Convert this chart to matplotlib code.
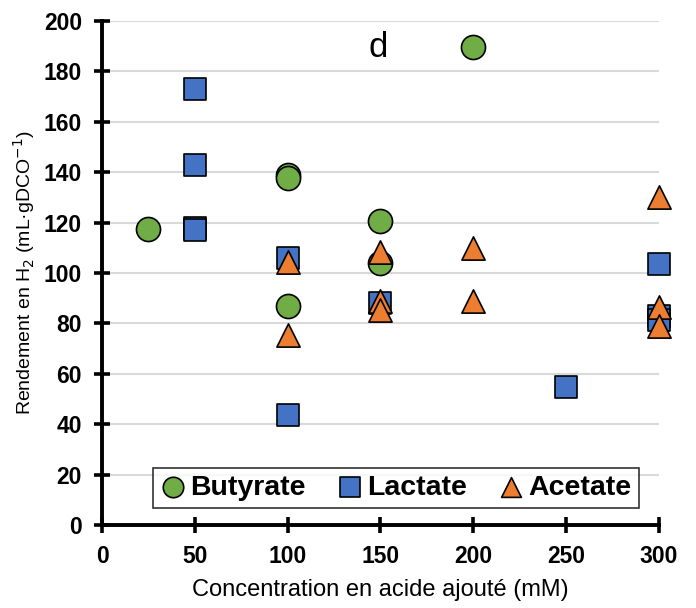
import matplotlib.pyplot as plt

plt.rcParams['font.family'] = ['Liberation Sans', 'DejaVu Sans']

### 0. Data
but_x = [25, 100, 100, 100, 150, 150, 200]
but_y = [117.5, 139, 137.7, 87, 120.5, 103.8, 189.5]

lac_x = [50, 50, 50, 50, 100, 100, 150, 250, 300, 300, 300]
lac_y = [173, 142.7, 118, 117.2, 106, 43.7, 88, 54.7, 103.6, 83, 81.5]

ace_x = [100, 100, 150, 150, 150, 200, 200, 300, 300, 300]
ace_y = [104.4, 75.4, 108.3, 88.8, 85.3, 109.8, 88.7, 130.3, 86.5, 78.8]

xticks = [0, 50, 100, 150, 200, 250, 300]
yticks = list(range(0, 201, 20))

### 1. Figure
fig = plt.figure(figsize=(6.96, 6.08), dpi=100)
ax = fig.add_axes([0.1466, 0.1365, 0.80, 0.829])

ax.scatter(but_x, but_y, s=300, marker='o', c='#70AD47', edgecolors='black',
           linewidths=1.2, label='Butyrate', zorder=3, clip_on=False)
ax.scatter(lac_x, lac_y, s=260, marker='s', c='#4472C4', edgecolors='black',
           linewidths=1.2, label='Lactate', zorder=3, clip_on=False)
ax.scatter(ace_x, ace_y, s=280, marker='^', c='#ED7D31', edgecolors='black',
           linewidths=1.2, label='Acetate', zorder=4, clip_on=False)

ax.set_xlim(0, 300)
ax.set_ylim(0, 200)
ax.set_xticks(xticks)
ax.set_yticks(yticks)
ax.yaxis.grid(True, color='#D9D9D9', linewidth=1.5)
ax.set_axisbelow(True)

for s in ['top', 'right']:
    ax.spines[s].set_visible(False)
for s in ['left', 'bottom']:
    ax.spines[s].set_linewidth(2.8)

ax.tick_params(direction='inout', length=11, width=2.6, labelsize=16.5)
ax.tick_params(axis='x', pad=9)
ax.tick_params(axis='y', pad=9)
for lab in ax.get_xticklabels() + ax.get_yticklabels():
    lab.set_fontweight('bold')

ax.set_xlabel('Concentration en acide ajouté (mM)', fontsize=17, labelpad=8)
ax.set_ylabel('Rendement en H$_2$ (mL·gDCO$^{-1}$)', fontsize=14, labelpad=5)

ax.text(149, 189.5, 'd', fontsize=25, ha='center', va='center')

leg = ax.legend(loc='lower center', bbox_to_anchor=(0.528, 0.034), ncol=3,
                frameon=True, fancybox=False, edgecolor='black',
                prop={'weight': 'bold', 'size': 20.5}, handletextpad=0.15,
                handlelength=0.9, columnspacing=1.1, borderpad=0.25,
                borderaxespad=0, markerscale=0.85)
leg.get_frame().set_linewidth(1.2)

plt.savefig('out.png', dpi=100)
